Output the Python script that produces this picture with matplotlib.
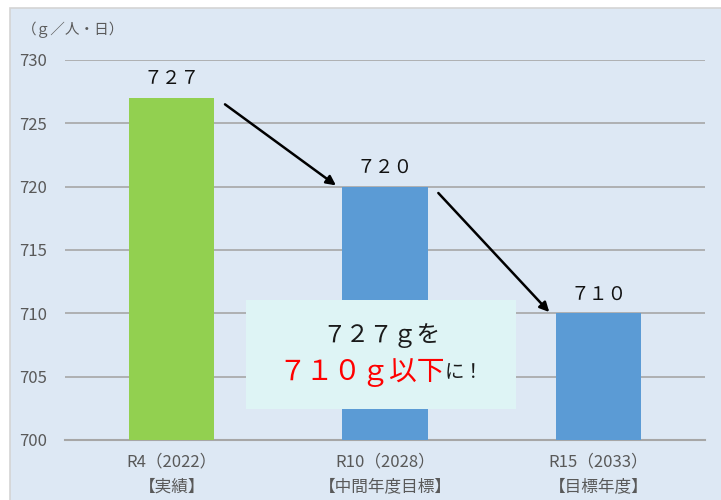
import matplotlib.pyplot as plt
from matplotlib.patches import Rectangle

plt.rcParams['font.family'] = ['Noto Sans CJK JP', 'DejaVu Sans']

# Data
categories = ["R4（2022）\n【実績】", "R10（2028）\n【中間年度目標】", "R15（2033）\n【目標年度】"]
values = [727, 720, 710]
value_labels = ["７２７", "７２０", "７１０"]
bar_colors = ["#92d050", "#5b9bd5", "#5b9bd5"]
yticks = [700, 705, 710, 715, 720, 725, 730]

fig = plt.figure(figsize=(7.21, 5.00), dpi=100, facecolor="white")

# light blue chart area with thin border
fig.patches.append(Rectangle((10 / 721, -0.01), 1.0, 1 - 8 / 500 + 0.01,
                             transform=fig.transFigure, facecolor="#dde8f4",
                             edgecolor="#d4d4d4", linewidth=1.2, zorder=-5))

ax = fig.add_axes([65 / 721, 0.12, 640 / 721, 0.76])
ax.set_facecolor("none")

x = range(len(values))
ax.bar(x, [v - 700 for v in values], bottom=700, width=0.40, color=bar_colors, zorder=3)

# value labels above bars
for i, (v, lab) in enumerate(zip(values, value_labels)):
    ax.text(i, v + 0.7, lab, ha="center", va="bottom", fontsize=13.5, color="#111111", zorder=4)

# arrows between bars
for i in range(len(values) - 1):
    ax.annotate("", xy=(i + 0.77, values[i + 1] + 0.1), xytext=(i + 0.25, values[i] - 0.5),
                arrowprops=dict(arrowstyle="-|>", color="black", lw=1.8,
                                mutation_scale=14, shrinkA=0, shrinkB=0), zorder=5)

ax.set_xlim(-0.5, 2.5)
ax.set_ylim(700, 730)
ax.set_yticks(yticks)
ax.set_xticks(list(x))
ax.set_xticklabels(categories, fontsize=12, color="#595959", linespacing=1.6)
ax.tick_params(axis="y", length=0, pad=13, labelsize=12, labelcolor="#595959")
ax.tick_params(axis="x", length=0, pad=10)
ax.grid(axis="y", color="#a6a6a6", linewidth=1.2, zorder=1)
for s in ["top", "right", "left"]:
    ax.spines[s].set_visible(False)
ax.spines["bottom"].set_color("#a6a6a6")
ax.spines["bottom"].set_linewidth(1.5)

# unit label
fig.text(22 / 721, 1 - 30 / 500, "（ｇ／人・日）", fontsize=10.5, color="#595959",
         ha="left", va="center")

# message box
fig.patches.append(Rectangle((246 / 721, 1 - 409 / 500), 270 / 721, 109 / 500,
                             transform=fig.transFigure, facecolor="#def4f5",
                             edgecolor="none", zorder=6))
fig.text(381 / 721, 1 - 336 / 500, "７２７ｇを", fontsize=17, color="#1a1a1a",
         ha="center", va="center", zorder=7)
fig.text(445 / 721, 1 - 372 / 500, "７１０ｇ以下", fontsize=20, color="#ff0000",
         ha="right", va="center", zorder=7)
fig.text(445 / 721, 1 - 373 / 500, "に！", fontsize=14, color="#1a1a1a",
         ha="left", va="center", zorder=7)

fig.savefig("out.png", dpi=100, facecolor="white")
plt.close(fig)
